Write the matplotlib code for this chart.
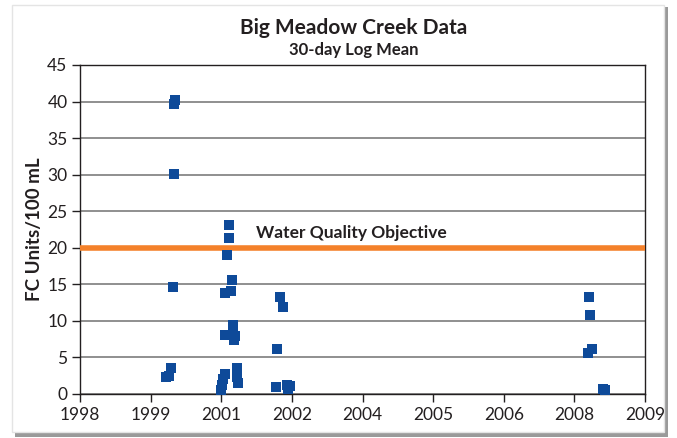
import numpy as np
import pandas as pd
import matplotlib
matplotlib.use("Agg")
import matplotlib.pyplot as plt
import matplotlib.dates as mdates
from matplotlib.patches import Rectangle

# -----------------------------------------------------------------------------
# Data (sample date, FC units / 100 mL)
dates = ["2000-05-18", "2000-05-11", "2000-05-11", "2000-05-04", "2000-04-19",
         "2000-04-05", "2000-03-15",
         "2001-06-04", "2001-06-04", "2001-05-21", "2001-06-25", "2001-06-18",
         "2001-05-07", "2001-07-03", "2001-07-03", "2001-05-07", "2001-07-17",
         "2001-07-10", "2001-07-31", "2001-07-31", "2001-08-07", "2001-05-07",
         "2001-04-23", "2001-04-16", "2001-04-09",
         "2002-05-31", "2002-06-22", "2002-05-10", "2002-05-03", "2002-07-20",
         "2002-08-10", "2002-07-27",
         "2008-05-28", "2008-06-04", "2008-06-18", "2008-05-21", "2008-09-04",
         "2008-09-18"]
fc_values = [40.2, 39.7, 30.1, 14.6, 3.6,
             2.5, 2.3,
             23.1, 21.3, 19.0, 15.6, 14.1,
             13.8, 9.5, 9.0, 8.1, 8.0,
             7.4, 3.6, 2.3, 1.5, 2.8,
             2.1, 1.2, 0.5,
             13.3, 11.9, 6.2, 1.0, 1.2,
             1.1, 0.7,
             13.3, 10.8, 6.2, 5.6, 0.7,
             0.5]
objective = 20

# Excel style date axis: a major tick every 500 days, labelled by year
tick_start = "1998-07-15"
tick_step_days = 500
n_ticks = 9

dates = pd.to_datetime(dates)
ticks = pd.date_range(tick_start, periods=n_ticks, freq=f"{tick_step_days}D")

plt.rcParams['font.family'] = ['Lato', 'DejaVu Sans']

fig = plt.figure(figsize=(6.77, 4.38), dpi=100)

# card with drop shadow
fig.patches.append(Rectangle((15 / 677, 1 - 437 / 438), 653 / 677, 430 / 438,
                             transform=fig.transFigure, facecolor='#9a9a9a',
                             edgecolor='none', zorder=-2))
fig.patches.append(Rectangle((12 / 677, 1 - 432 / 438), 652 / 677, 427 / 438,
                             transform=fig.transFigure, facecolor='white',
                             edgecolor='#e4e4e4', linewidth=1, zorder=-1))

ax = fig.add_axes([80 / 677, 1 - 394 / 438, 565 / 677, 329 / 438])
ax.set_zorder(2)
ax.set_facecolor('none')

ax.scatter(dates, fc_values, marker='s', s=42, color='#0e4a99',
           linewidths=0, zorder=4, clip_on=False)
ax.axhline(objective, color='#f4812a', linewidth=4, zorder=3)
ax.text(mdates.date2num(pd.Timestamp("2001-12-12")), objective + 2.0,
        'Water Quality Objective', fontsize=12.5, fontweight='bold',
        color='#231f20', va='center', ha='left')

ax.set_ylim(0, 45)
ax.set_yticks(np.arange(0, 46, 5))
ax.set_xlim(ticks[0], ticks[-1])
ax.set_xticks(ticks)
ax.xaxis.set_major_formatter(mdates.DateFormatter('%Y'))

ax.grid(axis='y', color='#7d7d7d', linewidth=1.2)
ax.set_axisbelow(True)
for side in ['left', 'right', 'top', 'bottom']:
    ax.spines[side].set_color('#231f20')
    ax.spines[side].set_linewidth(1.0)
ax.tick_params(axis='both', direction='out', length=6, width=1,
               labelsize=12.5, colors='#231f20', pad=3)

ax.set_ylabel('FC Units/100 mL', fontsize=13.5, fontweight='bold',
              color='#231f20', labelpad=3)

fig.text(354 / 677, 1 - 28 / 438, 'Big Meadow Creek Data', ha='center',
         va='center', fontsize=15, fontweight='bold', color='#231f20')
fig.text(354 / 677, 1 - 50 / 438, '30-day Log Mean', ha='center',
         va='center', fontsize=12, fontweight='bold', color='#231f20')

fig.savefig('out.png', dpi=100)
